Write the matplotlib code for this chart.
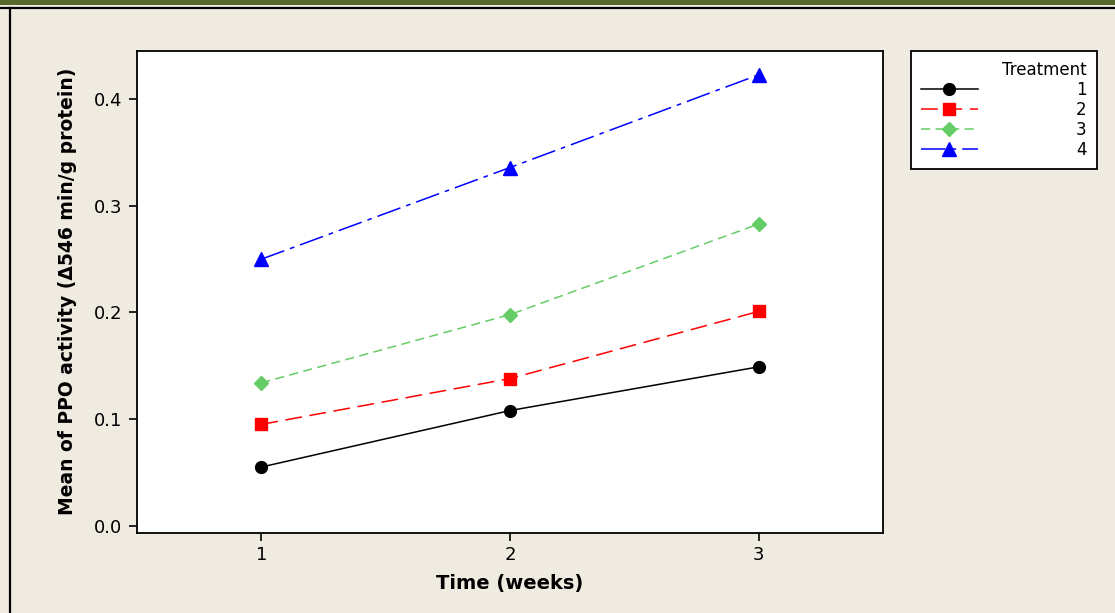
import matplotlib.pyplot as plt
from matplotlib.lines import Line2D

# data
weeks = [1, 2, 3]
treatments = ["1", "2", "3", "4"]
ppo_t1 = [0.055, 0.108, 0.149]
ppo_t2 = [0.095, 0.138, 0.201]
ppo_t3 = [0.134, 0.198, 0.283]
ppo_t4 = [0.250, 0.336, 0.423]
yticks = [0.0, 0.1, 0.2, 0.3, 0.4]

series = [ppo_t1, ppo_t2, ppo_t3, ppo_t4]
colors = ["black", "#ff0000", "#66cc66", "#0000ff"]
markers = ["o", "s", "D", "^"]
msizes = [8.5, 8, 7.5, 9.5]
dashes = [None, (11, 5), (6, 3.5), (16, 4, 3, 4)]

bg = "#efebe1"

fig = plt.figure(figsize=(11.15, 6.13), dpi=100, facecolor=bg)

# decorative frame: green band at top, black rule top and left
fig.add_artist(plt.Rectangle((0, 1 - 5 / 613), 1, 5 / 613, transform=fig.transFigure,
                             color="#56692c", lw=0))
fig.add_artist(Line2D([0, 1], [1 - 7.5 / 613] * 2, transform=fig.transFigure, color="black", lw=1.6))
fig.add_artist(Line2D([10 / 1115] * 2, [0, 1 - 7.5 / 613], transform=fig.transFigure, color="black", lw=1.6))

ax = fig.add_axes([137 / 1115, 80.3 / 613, 746 / 1115, 482 / 613])
ax.set_facecolor("white")

handles = []
for vals, c, m, ms, d, lab in zip(series, colors, markers, msizes, dashes, treatments):
    line, = ax.plot(weeks, vals, color=c, marker=m, markersize=ms, lw=1.1,
                    markeredgecolor=c, label=lab)
    if d is not None:
        line.set_dashes(d)
    handles.append(line)

ax.set_xlim(0.5, 3.5)
ax.set_ylim(-0.0066, 0.4456)
ax.set_xticks(weeks)
ax.set_yticks(yticks)
ax.set_yticklabels([f"{v:.1f}" for v in yticks])
ax.tick_params(axis="both", direction="out", length=5.5, width=1.2, labelsize=13)
ax.tick_params(axis="y", pad=5)
ax.tick_params(axis="x", pad=4)
for s in ax.spines.values():
    s.set_linewidth(1.3)

ax.set_xlabel("Time (weeks)", fontsize=14, fontweight="bold", labelpad=7)
ax.set_ylabel("Mean of PPO activity (Δ546 min/g protein)", fontsize=13.5, fontweight="bold", labelpad=12)

leg = fig.legend(handles=handles, labels=treatments, title="Treatment",
                 loc="upper left", bbox_to_anchor=(911 / 1115, 1 - 51 / 613),
                 borderaxespad=0,
                 fontsize=12, title_fontsize=12, alignment="right",
                 handlelength=3.4, handletextpad=5.9, labelspacing=0.12,
                 borderpad=0.6, frameon=True, fancybox=False, edgecolor="black",
                 facecolor="white", framealpha=1)
leg.get_frame().set_linewidth(1.3)

fig.savefig("out.png", dpi=100, facecolor=bg)
